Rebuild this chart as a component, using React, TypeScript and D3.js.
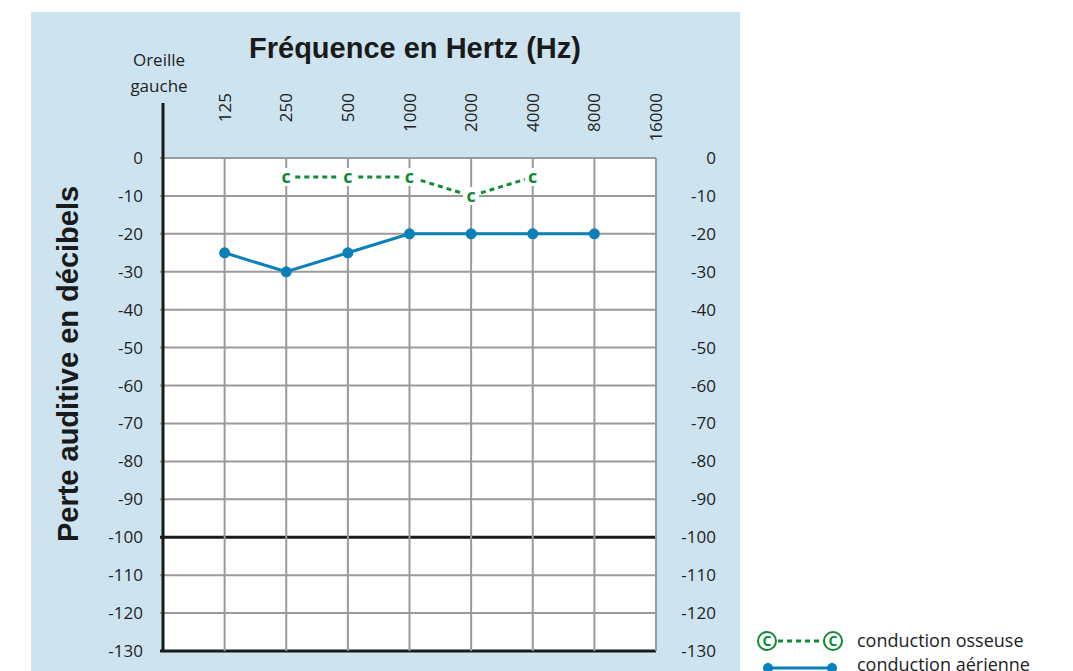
import * as d3 from "d3";

const freqs = [125, 250, 500, 1000, 2000, 4000, 8000, 16000];
const dbTicks = [0, -10, -20, -30, -40, -50, -60, -70, -80, -90, -100, -110, -120, -130];

const airFreq = [125, 250, 500, 1000, 2000, 4000, 8000];
const airDb = [-25, -30, -25, -20, -20, -20, -20];

const boneFreq = [250, 500, 1000, 2000, 4000];
const boneDb = [-5, -5, -5, -10, -5];

const W = 1073;
const H = 671;
const plot = { x1: 163, x2: 656, y1: 158, y2: 651 };

const BLUE = "#0a7fb8";
const GREEN = "#138a36";
const PANEL = "#cde4f0";
const LABEL_FONT = "'Open Sans', 'Noto Sans', sans-serif";
const BOLD_FONT = "'Liberation Sans', Arial, sans-serif";

export default function App() {
  const x = d3.scaleLog().base(2).domain([62.5, 16000]).range([plot.x1, plot.x2]);
  const y = d3.scaleLinear().domain([0, -130]).range([plot.y1, plot.y2]);

  const air = airFreq.map((f, i) => ({ f, db: airDb[i] }));
  const bone = boneFreq.map((f, i) => ({ f, db: boneDb[i] }));

  const line = d3
    .line<{ f: number; db: number }>()
    .x((d) => x(d.f))
    .y((d) => y(d.db));

  return (
    <svg
      width={W}
      height={H}
      style={{ position: "absolute", left: 0, top: 0, background: "#fff" }}
    >
      <rect x={31} y={12} width={709} height={H} fill={PANEL} />

      {/* titre */}
      <text
        x={415}
        y={58}
        textAnchor="middle"
        fontFamily={BOLD_FONT}
        fontWeight="bold"
        fontSize={29}
        fill="#1a1a1a"
      >
        Fréquence en Hertz (Hz)
      </text>
      <text
        transform={`translate(78,${364}) rotate(-90)`}
        textAnchor="middle"
        fontFamily={BOLD_FONT}
        fontWeight="bold"
        fontSize={29}
        fill="#1a1a1a"
      >
        Perte auditive en décibels
      </text>
      <text x={159} y={66} textAnchor="middle" fontFamily={LABEL_FONT} fontSize={17} fill="#222">
        Oreille
      </text>
      <text x={159} y={92} textAnchor="middle" fontFamily={LABEL_FONT} fontSize={17} fill="#222">
        gauche
      </text>

      {/* zone blanche */}
      <rect x={plot.x1} y={plot.y1} width={plot.x2 - plot.x1} height={plot.y2 - plot.y1} fill="#fff" />

      {/* grille */}
      {dbTicks.map((d) => (
        <line
          key={"h" + d}
          x1={plot.x1 - 3}
          x2={plot.x2}
          y1={y(d)}
          y2={y(d)}
          stroke={d === -100 || d === -130 ? "#1a1a1a" : "#9a9a9a"}
          strokeWidth={d === -100 || d === -130 ? 3 : 2}
        />
      ))}
      {freqs.map((f) => (
        <line key={"v" + f} x1={x(f)} x2={x(f)} y1={plot.y1} y2={plot.y2} stroke="#9a9a9a" strokeWidth={2} />
      ))}
      <line x1={plot.x1} x2={plot.x1} y1={103} y2={plot.y2 + 1} stroke="#1a1a1a" strokeWidth={3} />

      {/* étiquettes */}
      {dbTicks.map((d) => (
        <g key={"l" + d}>
          <text x={143} y={y(d) + 6} textAnchor="end" fontFamily={LABEL_FONT} fontSize={17} fill="#222">
            {d}
          </text>
          <text x={716} y={y(d) + 6} textAnchor="end" fontFamily={LABEL_FONT} fontSize={17} fill="#222">
            {d}
          </text>
        </g>
      ))}
      {freqs.map((f) => (
        <text
          key={"f" + f}
          transform={`translate(${x(f) + 6},93) rotate(-90)`}
          textAnchor="end"
          fontFamily={LABEL_FONT}
          fontSize={17}
          fill="#222"
        >
          {f}
        </text>
      ))}

      {/* conduction aérienne */}
      <path d={line(air) ?? ""} fill="none" stroke={BLUE} strokeWidth={3} />
      {air.map((d) => (
        <circle key={"a" + d.f} cx={x(d.f)} cy={y(d.db)} r={5.5} fill={BLUE} />
      ))}

      {/* conduction osseuse */}
      <path d={line(bone) ?? ""} fill="none" stroke={GREEN} strokeWidth={3} strokeDasharray="5 4" />
      {bone.map((d) => (
        <g key={"b" + d.f}>
          <rect x={x(d.f) - 8} y={y(d.db) - 9} width={16} height={18} fill="#fff" />
          <text
            x={x(d.f)}
            y={y(d.db) + 6}
            textAnchor="middle"
            fontFamily={LABEL_FONT}
            fontWeight="bold"
            fontSize={18}
            fill={GREEN}
          >
            c
          </text>
        </g>
      ))}

      {/* légende */}
      <line x1={767} x2={833} y1={641} y2={641} stroke={GREEN} strokeWidth={3} strokeDasharray="5 4" strokeDashoffset={-2} />
      {[767, 833].map((cx) => (
        <g key={"lg" + cx}>
          <circle cx={cx} cy={641} r={9} fill="#fff" stroke={GREEN} strokeWidth={2} />
          <text x={cx} y={646} textAnchor="middle" fontFamily={LABEL_FONT} fontWeight="bold" fontSize={14} fill={GREEN}>
            C
          </text>
        </g>
      ))}
      <text x={857} y={647} fontFamily={LABEL_FONT} fontSize={18} fill="#222">
        conduction osseuse
      </text>
      <line x1={768} x2={832} y1={668} y2={668} stroke={BLUE} strokeWidth={3} />
      <circle cx={768} cy={668} r={5} fill={BLUE} />
      <circle cx={832} cy={668} r={5} fill={BLUE} />
      <text x={857} y={671} fontFamily={LABEL_FONT} fontSize={18} fill="#222">
        conduction aérienne
      </text>
    </svg>
  );
}
